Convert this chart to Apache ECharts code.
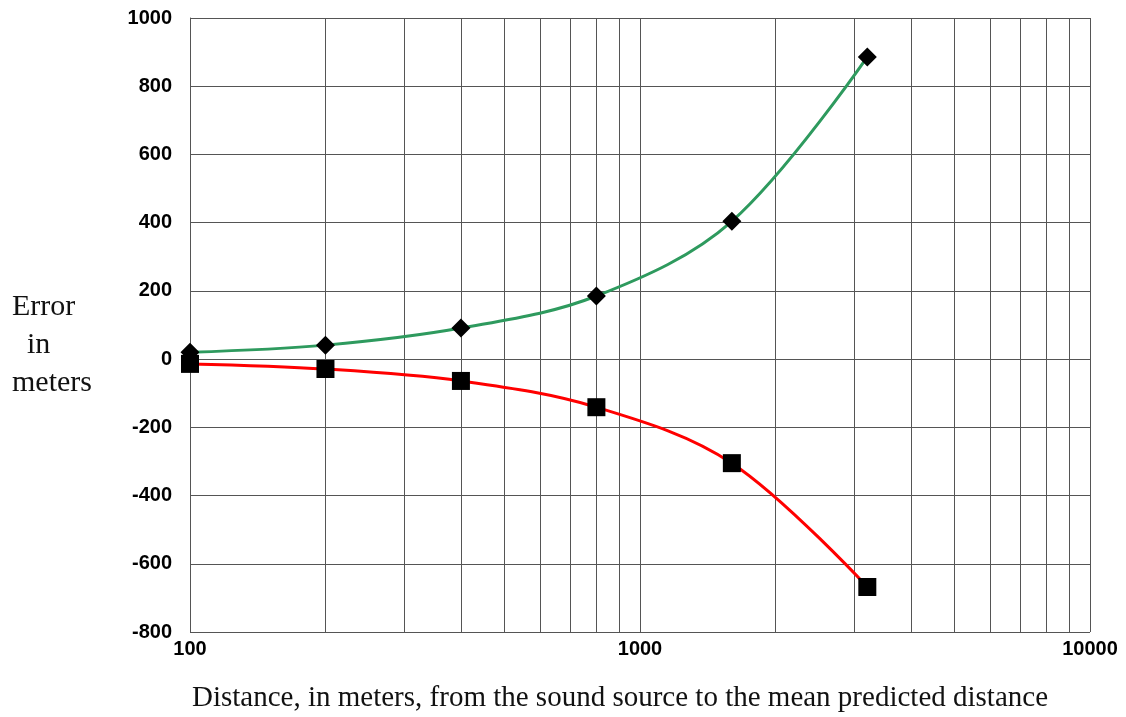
<!DOCTYPE html>
<html>
<head>
<meta charset="utf-8">
<script src="https://cdn.jsdelivr.net/npm/echarts@6/dist/echarts.min.js"></script>
<style>
  html, body { margin: 0; padding: 0; background: #fff; }
  #chart { width: 1126px; height: 717px; }
</style>
</head>
<body>
<div id="chart"></div>
<script>
// distances (m)
const distances = [100, 200, 400, 800, 1600, 3200]
// over-estimate (green, diamonds)
const upperError = [20, 41, 91, 185, 404, 886]
// under-estimate (red, squares)
const lowerError = [-14, -29, -64, -141, -305, -668]
// log minor grid positions
const minorGrid = [200, 300, 400, 500, 600, 700, 800, 900, 2000, 3000, 4000, 5000, 6000, 7000, 8000, 9000]

const gridColor = '#555'

let myChart = echarts.init(document.getElementById('chart'))

const option = {
  backgroundColor: '#fff',
  animation: false,
  grid: {
    left: 190,
    right: 36,
    top: 18,
    bottom: 85
  },
  xAxis: {
    type: 'log',
    logBase: 10,
    min: 100,
    max: 10000,
    axisLine: { show: false },
    axisTick: { show: false },
    axisLabel: {
      fontFamily: 'Liberation Sans',
      fontWeight: 'bold',
      fontSize: 20,
      color: '#000',
      margin: 7,
      formatter: v => String(v),
      showMinLabel: true,
      showMaxLabel: true
    },
    splitLine: { show: true, lineStyle: { color: gridColor, width: 1 } }
  },
  yAxis: {
    type: 'value',
    min: -800,
    max: 1000,
    interval: 200,
    axisLine: { show: true, lineStyle: { color: gridColor } },
    axisTick: { show: false },
    axisLabel: {
      fontFamily: 'Liberation Sans',
      fontWeight: 'bold',
      fontSize: 20,
      color: '#000',
      margin: 18,
      formatter: v => String(v)
    },
    splitLine: { show: true, lineStyle: { color: gridColor, width: 1 } }
  },
  graphic: [
    {
      type: 'text',
      left: 12,
      top: 288,
      style: {
        text: 'Error\n  in\nmeters',
        fontFamily: 'Liberation Serif',
        fontSize: 30,
        lineHeight: 38,
        fill: '#111'
      }
    },
    {
      type: 'text',
      left: 192,
      top: 684,
      style: {
        text: 'Distance, in meters, from the sound source to the mean predicted distance',
        fontFamily: 'Liberation Serif',
        fontSize: 29,
        fill: '#111'
      }
    }
  ],
  series: [
    {
      type: 'line',
      name: 'minor',
      data: [],
      silent: true,
      z: 0,
      markLine: {
        symbol: 'none',
        silent: true,
        z: 0,
        label: { show: false },
        lineStyle: { color: gridColor, width: 1, type: 'solid' },
        data: minorGrid.map(v => ({ xAxis: v }))
      }
    },
    {
      type: 'line',
      name: 'upper',
      data: distances.map((d, i) => [d, upperError[i]]),
      smooth: 0.35,
      symbol: 'diamond',
      symbolSize: 19,
      itemStyle: { color: '#000' },
      lineStyle: { color: '#2e9a5e', width: 3 },
      z: 5
    },
    {
      type: 'line',
      name: 'lower',
      data: distances.map((d, i) => [d, lowerError[i]]),
      smooth: 0.35,
      symbol: 'rect',
      symbolSize: 18,
      itemStyle: { color: '#000' },
      lineStyle: { color: '#ff0000', width: 3 },
      z: 5
    }
  ]
}

myChart.setOption(option)
</script>
</body>
</html>
